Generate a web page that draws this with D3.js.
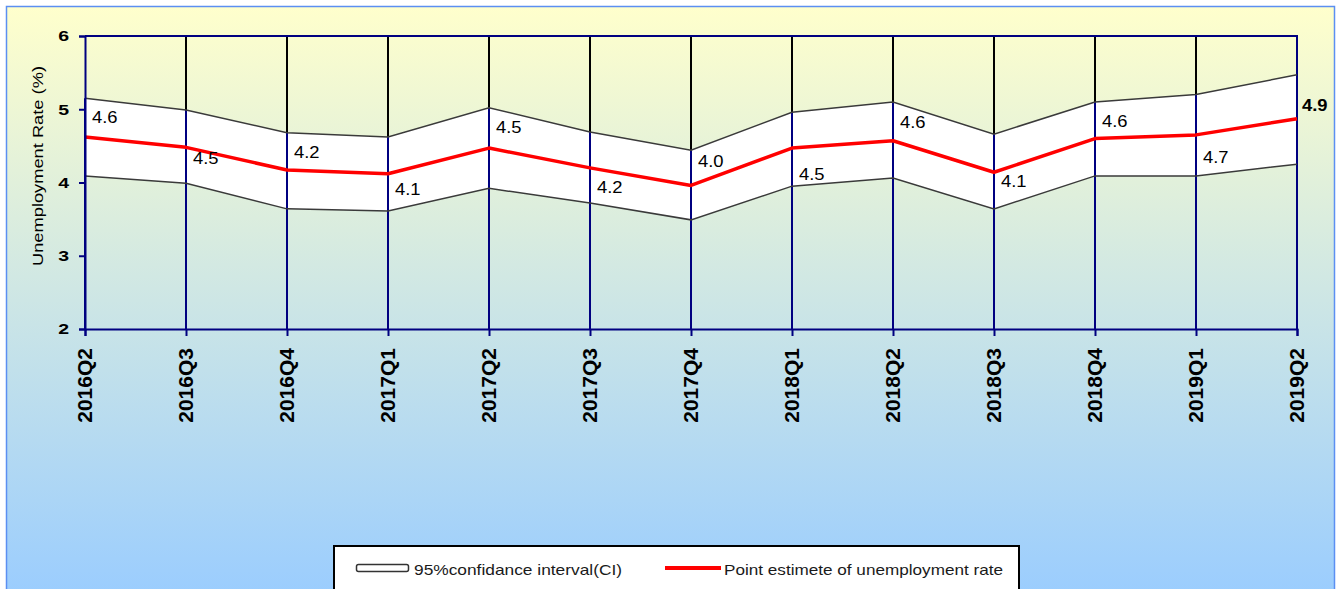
<!DOCTYPE html>
<html>
<head>
<meta charset="utf-8">
<script src="https://cdn.jsdelivr.net/npm/d3@7"></script>
<style>
  html, body { margin: 0; padding: 0; background: #fff; }
  svg { display: block; font-family: "Liberation Sans", Arial, sans-serif; }
</style>
</head>
<body>
<svg id="chart" width="1336" height="589"></svg>
<script>
// data
const quarters = ['2016Q2', '2016Q3', '2016Q4', '2017Q1', '2017Q2', '2017Q3', '2017Q4',
  '2018Q1', '2018Q2', '2018Q3', '2018Q4', '2019Q1', '2019Q2'];
const pointEstimate = [4.62, 4.48, 4.17, 4.12, 4.47, 4.20, 3.96, 4.47, 4.57, 4.14, 4.60, 4.65, 4.87];
const upperCI = [5.15, 4.99, 4.68, 4.62, 5.02, 4.69, 4.44, 4.96, 5.10, 4.66, 5.10, 5.20, 5.47];
const lowerCI = [4.09, 3.99, 3.64, 3.61, 3.92, 3.72, 3.49, 3.95, 4.06, 3.64, 4.09, 4.09, 4.25];
const pointLabels = ['4.6', '4.5', '4.2', '4.1', '4.5', '4.2', '4.0', '4.5', '4.6', '4.1', '4.6', '4.7', '4.9'];
const yTicks = [2, 3, 4, 5, 6];

// label nudges (px from the line to the text baseline)
const labelDy = [-14, 17, -12, 21, -15, 25, -18, 32, -13, 15, -12, 28, -8];

const NAVY = '#000080';
const margin = { left: 85, right: 39, top: 36, bottom: 260 };
const width = 1336, height = 589;

const svg = d3.select('#chart');

// background panel
const defs = svg.append('defs');
const grad = defs.append('linearGradient')
  .attr('id', 'bg').attr('x1', 0).attr('y1', 0).attr('x2', 0).attr('y2', 1);
grad.append('stop').attr('offset', '0%').attr('stop-color', '#ffffcc');
grad.append('stop').attr('offset', '100%').attr('stop-color', '#99ccff');

svg.append('rect')
  .attr('x', 6.5).attr('y', 6.5)
  .attr('width', width - 8).attr('height', height + 10)
  .attr('fill', 'url(#bg)')
  .attr('stroke', '#5b8ff2').attr('stroke-width', 1.5);

const x = d3.scalePoint().domain(quarters).range([margin.left, width - margin.right]);
const y = d3.scaleLinear().domain([2, 6]).range([height - margin.bottom, margin.top]);

const rows = quarters.map((q, i) => ({
  q, est: pointEstimate[i], hi: upperCI[i], lo: lowerCI[i], label: pointLabels[i], dy: labelDy[i]
}));

// white confidence band
svg.append('path')
  .datum(rows)
  .attr('fill', '#fff')
  .attr('d', d3.area().x(d => x(d.q)).y0(d => y(d.lo)).y1(d => y(d.hi)));

// vertical grid: navy up to the upper CI, black above it
const grid = svg.append('g');
grid.selectAll('line.low')
  .data(rows)
  .join('line')
  .attr('class', 'low')
  .attr('x1', d => x(d.q)).attr('x2', d => x(d.q))
  .attr('y1', y(2)).attr('y2', d => y(d.hi))
  .attr('stroke', NAVY).attr('stroke-width', 2);
grid.selectAll('line.high')
  .data(rows.slice(1, -1))
  .join('line')
  .attr('class', 'high')
  .attr('x1', d => x(d.q)).attr('x2', d => x(d.q))
  .attr('y1', d => y(d.hi)).attr('y2', y(6))
  .attr('stroke', '#000').attr('stroke-width', 2);

// plot frame (top + right)
svg.append('path')
  .attr('d', `M${x.range()[0]},${y(6)}H${x.range()[1]}V${y(2)}`)
  .attr('fill', 'none').attr('stroke', NAVY).attr('stroke-width', 2);

// CI borders
['hi', 'lo'].forEach(k => {
  svg.append('path')
    .datum(rows)
    .attr('fill', 'none')
    .attr('stroke', '#3a3a3a').attr('stroke-width', 1.5)
    .attr('d', d3.line().x(d => x(d.q)).y(d => y(d[k])));
});

// point estimate
svg.append('path')
  .datum(rows)
  .attr('fill', 'none')
  .attr('stroke', '#ff0000').attr('stroke-width', 3.5)
  .attr('stroke-linejoin', 'round')
  .attr('d', d3.line().x(d => x(d.q)).y(d => y(d.est)));

// Y axis
const yAxis = svg.append('g')
  .attr('transform', `translate(${margin.left},0)`)
  .call(d3.axisLeft(y).tickValues(yTicks).tickSize(6).tickFormat(d3.format('d')));
yAxis.select('.domain').attr('stroke', NAVY).attr('stroke-width', 2);
yAxis.selectAll('.tick line').attr('stroke', NAVY).attr('stroke-width', 2);
yAxis.selectAll('.tick text')
  .attr('fill', '#000')
  .attr('font-size', 15).attr('font-weight', 'bold')
  .attr('x', -16 / 1.3)
  .attr('transform', 'scale(1.3,1)');

// X axis
const xAxis = svg.append('g')
  .attr('transform', `translate(0,${y(2)})`)
  .call(d3.axisBottom(x).tickSize(7));
xAxis.select('.domain').attr('stroke', NAVY).attr('stroke-width', 2);
xAxis.selectAll('.tick line').attr('stroke', NAVY).attr('stroke-width', 2);
xAxis.selectAll('.tick text')
  .attr('fill', '#000')
  .attr('font-size', 21).attr('font-weight', 'bold')
  .attr('text-anchor', 'end')
  .attr('x', -19).attr('y', 6).attr('dy', 0)
  .attr('transform', 'rotate(-90)');

// Y title
svg.append('text')
  .attr('transform', `translate(43,166) rotate(-90)`)
  .attr('text-anchor', 'middle')
  .attr('font-size', 15)
  .attr('textLength', 200).attr('lengthAdjust', 'spacingAndGlyphs')
  .text('Unemployment Rate (%)');

// data labels
const last = rows.length - 1;
svg.append('g')
  .selectAll('text')
  .data(rows)
  .join('text')
  .attr('transform', (d, i) =>
    `translate(${x(d.q) + (i === last ? 5 : 7)},${y(d.est) + d.dy}) scale(1.15,1)`)
  .attr('font-size', 16)
  .attr('font-weight', (d, i) => i === last ? 'bold' : 'normal')
  .attr('fill', '#000')
  .text(d => d.label);

// legend
const legend = svg.append('g');
legend.append('rect')
  .attr('x', 334).attr('y', 546)
  .attr('width', 685).attr('height', 60)
  .attr('fill', '#fff').attr('stroke', '#000').attr('stroke-width', 2);
legend.append('rect')
  .attr('x', 356.5).attr('y', 564.5)
  .attr('width', 52).attr('height', 7).attr('rx', 2)
  .attr('fill', '#fff').attr('stroke', '#333').attr('stroke-width', 1.5);
legend.append('text')
  .attr('x', 414).attr('y', 575)
  .attr('font-size', 15).attr('fill', '#1a1a1a')
  .attr('textLength', 208).attr('lengthAdjust', 'spacingAndGlyphs')
  .text('95%confidance interval(CI)');
legend.append('line')
  .attr('x1', 665).attr('x2', 721).attr('y1', 568).attr('y2', 568)
  .attr('stroke', '#ff0000').attr('stroke-width', 4);
legend.append('text')
  .attr('x', 724).attr('y', 575)
  .attr('font-size', 15).attr('fill', '#1a1a1a')
  .attr('textLength', 279).attr('lengthAdjust', 'spacingAndGlyphs')
  .text('Point estimete of unemployment rate');
</script>
</body>
</html>
